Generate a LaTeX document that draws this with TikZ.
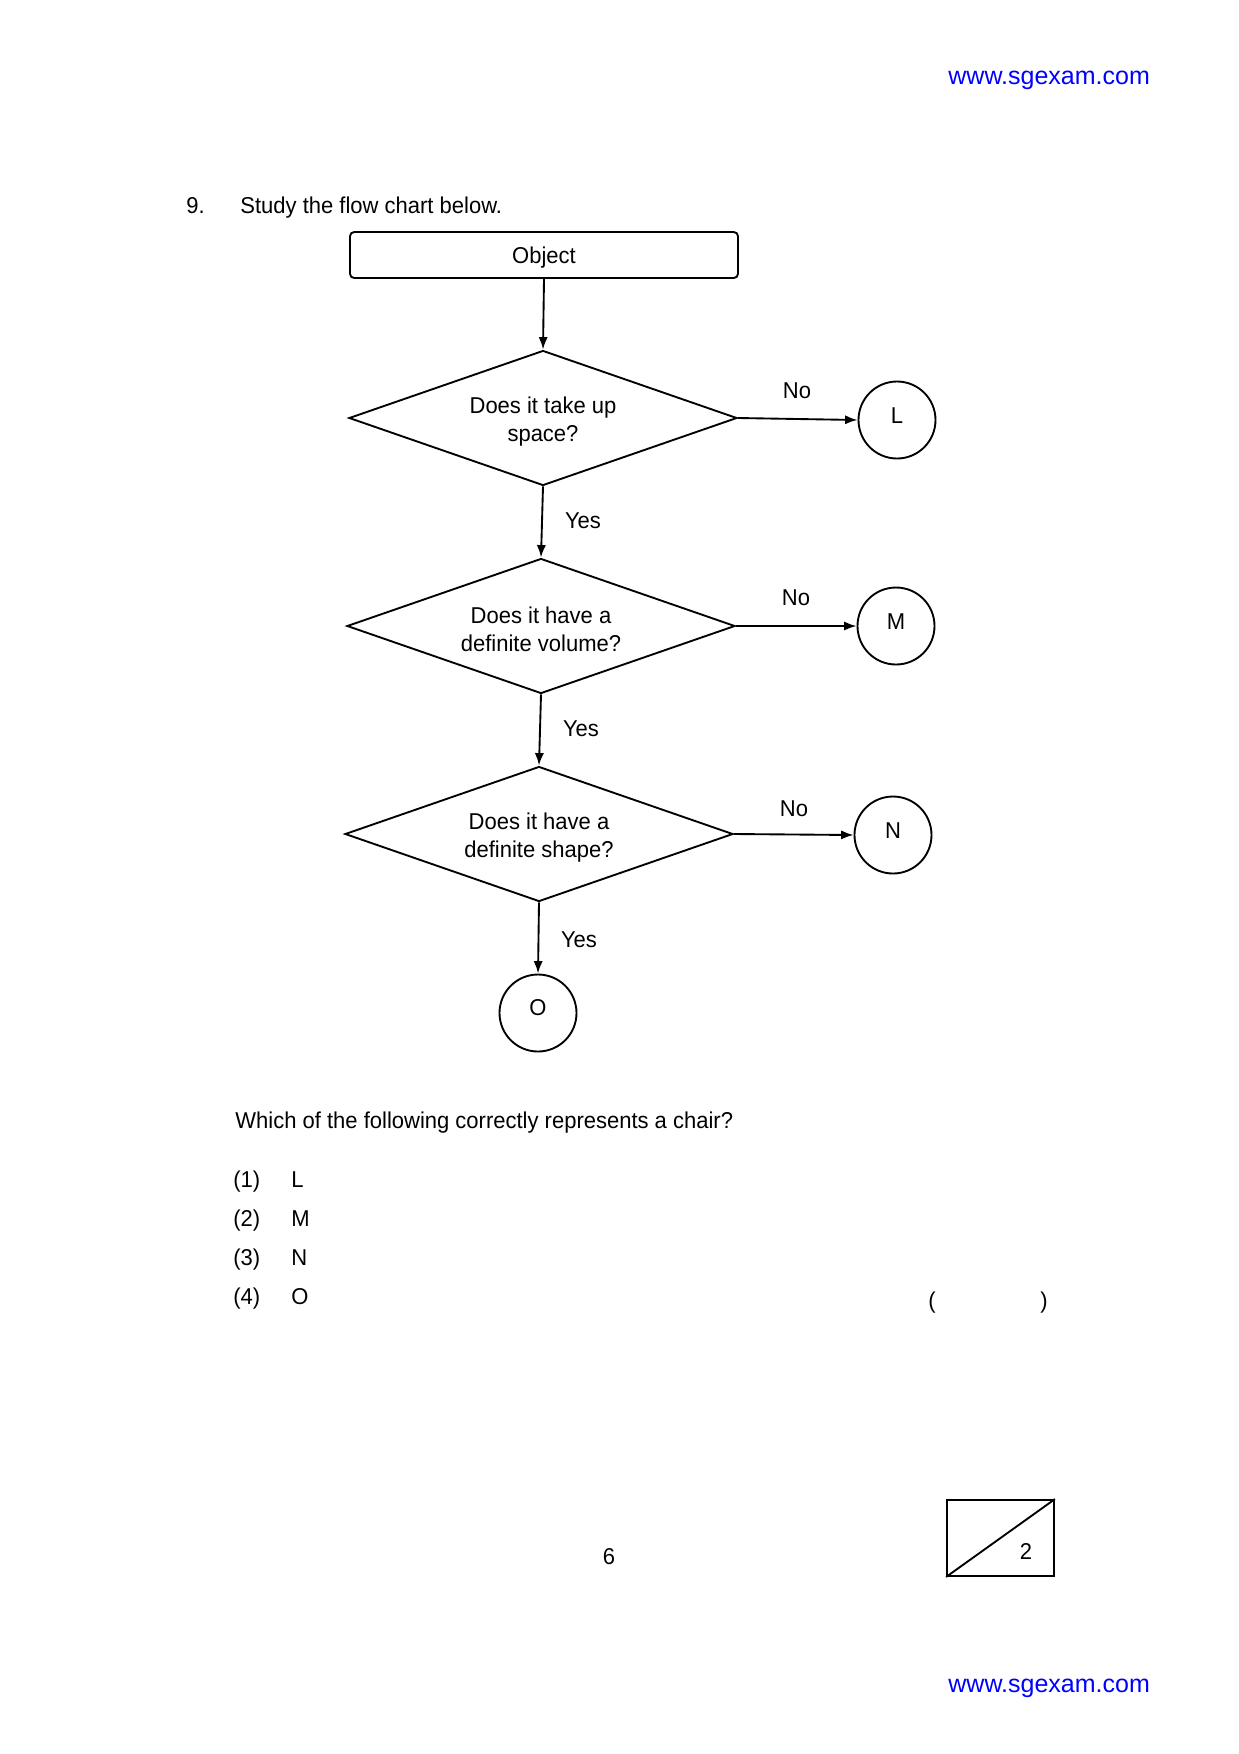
\documentclass[tikz,border=0pt]{standalone}
\usepackage{fontspec}
\setmainfont{Liberation Sans}[FakeStretch=0.96]
\newfontfamily\urlfont{Liberation Sans}
\usetikzlibrary{shapes.geometric,arrows.meta}
\begin{document}
\begin{tikzpicture}[x=0.48pt,y=-0.48pt,
  txt/.style={font=\fontsize{11pt}{13.4pt}\selectfont, inner sep=0pt},
  dec/.style={diamond, draw, line width=0.9pt, minimum width=388*0.48pt, minimum height=135*0.48pt, inner sep=0pt, aspect=2.87, align=center, font=\fontsize{11pt}{13.4pt}\selectfont},
  endc/.style={circle, draw, line width=0.9pt, minimum size=77*0.48pt, inner sep=0pt, font=\fontsize{11pt}{13.4pt}\selectfont},
  startbox/.style={rectangle, rounded corners=2pt, draw, line width=0.9pt, minimum width=388*0.48pt, minimum height=46*0.48pt, inner sep=0pt, font=\fontsize{11pt}{13.4pt}\selectfont},
  arr/.style={line width=0.9pt, -{Latex[length=6pt,width=4.4pt]}},
  url/.style={text=blue, font=\urlfont\fontsize{12pt}{14pt}\selectfont, inner sep=0pt}
]
\useasboundingbox[fill=white] (0,0) rectangle (1239,1754);

% header / footer
\node[url, anchor=west] (url1) at (948,80) {www.sgexam.com};
\node[url, anchor=west] (url2) at (948,1688) {www.sgexam.com};

% question
\node[txt, anchor=base west] (qn) at (186,213) {9.};
\node[txt, anchor=base west] (q1) at (240,213) {Study the flow chart below.};

% flow chart
\node[startbox] (obj) at (544,255) {\raisebox{-4pt}[0pt][0pt]{Object}};
\node[dec] (d1) at (543,418) {\rule{0pt}{11pt}Does it take up\\space?};
\node[dec] (d2) at (541,626) {\rule{0pt}{11pt}Does it have a\\definite volume?};
\node[dec] (d3) at (539,834) {\rule{0pt}{11pt}Does it have a\\definite shape?};
\node[endc] (L) at (897,420) {\raisebox{-1.5pt}[0pt][0pt]{L}};
\node[endc] (M) at (896,626) {\raisebox{-1.5pt}[0pt][0pt]{M}};
\node[endc] (N) at (893,835) {\raisebox{-1.5pt}[0pt][0pt]{N}};
\node[endc] (O) at (538,1013) {\raisebox{-1.1pt}[0pt][0pt]{O}};

\draw[arr] (obj.south) -- (d1.north);
\draw[arr] (d1.south) -- (d2.north);
\draw[arr] (d2.south) -- (d3.north);
\draw[arr] (d3.south) -- (O.north);
\draw[arr] (d1.east) -- (L.west);
\draw[arr] (d2.east) -- (M.west);
\draw[arr] (d3.east) -- (N.west);

\node[txt] (no1) at (797,391) {No};
\node[txt] (no2) at (796,598) {No};
\node[txt] (no3) at (794,809) {No};
\node[txt] (yes1) at (583,521) {Yes};
\node[txt] (yes2) at (581,729) {Yes};
\node[txt] (yes3) at (579,940) {Yes};

% question text
\node[txt, anchor=base west] (q2) at (235,1128) {Which of the following correctly represents a chair?};
\node[txt, anchor=base west] (o1) at (233,1187) {(1)};
\node[txt, anchor=base west] (a1) at (291,1187) {L};
\node[txt, anchor=base west] (o2) at (233,1226) {(2)};
\node[txt, anchor=base west] (a2) at (291,1226) {M};
\node[txt, anchor=base west] (o3) at (233,1265) {(3)};
\node[txt, anchor=base west] (a3) at (291,1265) {N};
\node[txt, anchor=base west] (o4) at (233,1304) {(4)};
\node[txt, anchor=base west] (a4) at (291,1304) {O};
\node[txt] (pl) at (932,1303) {(};
\node[txt] (pr) at (1044,1303) {)};

% page number and mark box
\node[txt] (pg) at (609,1557) {6};
\node[rectangle, draw, line width=0.9pt, minimum width=107*0.48pt, minimum height=76*0.48pt, inner sep=0pt] (mk) at (1000.5,1538) {};
\draw[line width=0.9pt] (mk.south west) -- (mk.north east);
\node[txt] (mk2) at (1026,1551) {2};
\end{tikzpicture}
\end{document}
